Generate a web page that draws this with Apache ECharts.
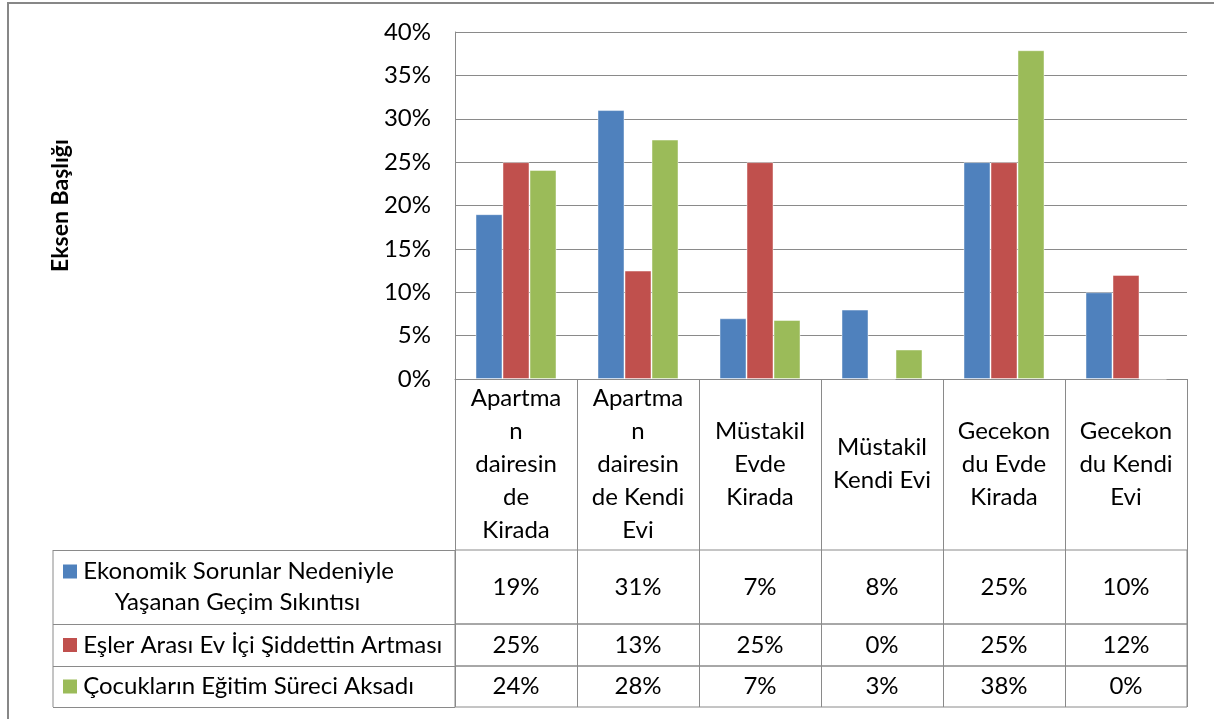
<!DOCTYPE html>
<html>
<head>
<meta charset="utf-8">
<title>Eksen Başlığı</title>
<script src="https://cdn.jsdelivr.net/npm/echarts@6/dist/echarts.min.js"></script>
<style>
  html, body { margin: 0; padding: 0; background: #fff; }
  #main { width: 1214px; height: 719px; }
</style>
</head>
<body>
<div id="main"></div>
<script>
// kategoriler, Excel'deki satır kırılımlarıyla
var categories = [
  'Apartma\nn\ndairesin\nde\nKirada',
  'Apartma\nn\ndairesin\nde Kendi\nEvi',
  'Müstakil\nEvde\nKirada',
  'Müstakil\nKendi Evi',
  'Gecekon\ndu Evde\nKirada',
  'Gecekon\ndu Kendi\nEvi'
];
var seriesNames = [
  'Ekonomik Sorunlar Nedeniyle Yaşanan Geçim Sıkıntısı',
  'Eşler Arası Ev İçi Şiddettin Artması',
  'Çocukların Eğitim Süreci Aksadı'
];
var ekonomik = [19, 31, 7, 8, 25, 10];
var siddet = [25, 12.5, 25, 0, 25, 12];
var egitim = [24.1, 27.6, 6.8, 3.4, 37.9, 0];
var colors = ['#4F81BD', '#C0504D', '#9BBB59'];

var allData = [ekonomik, siddet, egitim];
var FONT = 'Lato';
var LINE = '#8a8a8a';

// tablo satırları (üst, yükseklik)
var rows = [[550, 74], [624, 42], [666, 41]];
var plotLeft = 455, plotRight = 27;

var grids = [{ left: plotLeft, right: plotRight, top: 32, height: 347 }];
var xAxes = [{
  gridIndex: 0,
  type: 'category',
  data: categories,
  axisLine: { lineStyle: { color: LINE } },
  axisTick: { show: true, interval: 0, length: 171, lineStyle: { color: LINE } },
  axisLabel: {
    interval: 0, margin: 85, verticalAlign: 'middle', lineHeight: 33,
    color: '#000', fontSize: 24, fontFamily: FONT
  }
}];
var yAxes = [{
  gridIndex: 0,
  type: 'value',
  min: 0, max: 40, interval: 5,
  name: 'Eksen Başlığı',
  nameLocation: 'middle',
  nameGap: 383,
  nameRotate: 90,
  nameTextStyle: { color: '#000', fontSize: 23, fontWeight: 'bold', fontFamily: FONT },
  axisLine: { show: true, lineStyle: { color: LINE } },
  axisTick: { show: false },
  splitLine: { lineStyle: { color: LINE } },
  axisLabel: { formatter: '{value}%', margin: 24, color: '#000', fontSize: 24, fontFamily: FONT }
}];

rows.forEach(function (r, i) {
  var vals = allData[i];
  grids.push({
    left: plotLeft, right: plotRight, top: r[0], height: r[1],
    show: true, borderColor: LINE, borderWidth: 1
  });
  xAxes.push({
    gridIndex: i + 1,
    type: 'category',
    data: categories,
    axisLine: { show: false },
    axisTick: { show: false },
    splitLine: { show: true, interval: 0, lineStyle: { color: LINE } },
    axisLabel: {
      interval: 0, inside: true, margin: r[1] / 2, verticalAlign: 'middle',
      color: '#000', fontSize: 24, fontFamily: FONT,
      formatter: function (v, idx) { return Math.round(vals[idx]) + '%'; }
    }
  });
  var name = seriesNames[i];
  yAxes.push({
    gridIndex: i + 1,
    type: 'category',
    data: [name],
    axisLine: { show: false },
    axisTick: { show: true, length: plotLeft - 53, lineStyle: { color: LINE } },
    splitLine: { show: false },
    axisLabel: {
      margin: plotLeft - 63, align: 'left', verticalAlign: 'middle',
      color: '#000', fontSize: 24, fontFamily: FONT, lineHeight: 31,
      formatter: function () {
        if (i === 0) {
          return '{sq|}{t| Ekonomik Sorunlar Nedeniyle}\n{c|Yaşanan Geçim Sıkıntısı}';
        }
        return '{sq|}{t| ' + name + '}';
      },
      rich: {
        sq: { width: 14, height: 14, backgroundColor: colors[i] },
        t: { fontSize: 24, fontFamily: FONT, color: '#000' },
        c: { fontSize: 24, fontFamily: FONT, color: '#000', align: 'center', padding: [0, 0, 0, 18] }
      }
    }
  });
});

var series = allData.map(function (d, i) {
  return {
    name: seriesNames[i],
    type: 'bar',
    xAxisIndex: 0,
    yAxisIndex: 0,
    barWidth: 27,
    barGap: '0%',
    itemStyle: { color: colors[i], borderColor: 'rgba(255,255,255,0.45)', borderWidth: 1 },
    data: d
  };
});

var myChart = echarts.init(document.getElementById('main'));
myChart.setOption({
  backgroundColor: '#fff',
  animation: false,
  textStyle: { fontFamily: FONT },
  grid: grids,
  xAxis: xAxes,
  yAxis: yAxes,
  series: series,
  graphic: [
    // dış çerçeve
    { type: 'rect', shape: { x: 8, y: 3, width: 1400, height: 900 },
      style: { fill: 'none', stroke: '#878787', lineWidth: 2 }, silent: true },
    // gösterge sütununun sol kenarı
    { type: 'line', shape: { x1: 53, y1: 550, x2: 53, y2: 707 },
      style: { stroke: LINE, lineWidth: 1 }, silent: true }
  ]
});
</script>
</body>
</html>
